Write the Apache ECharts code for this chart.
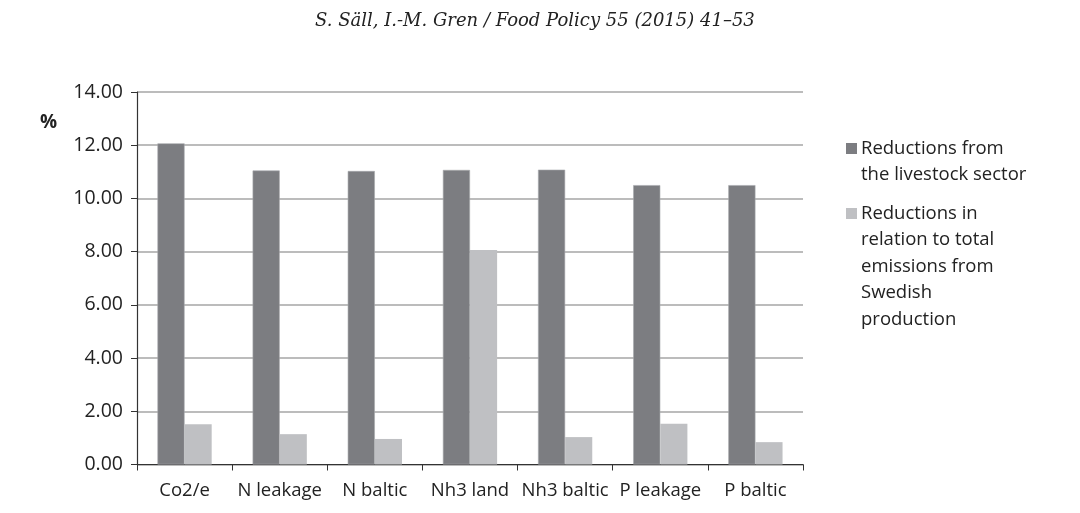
<!DOCTYPE html>
<html>
<head>
<meta charset="utf-8">
<script src="https://cdn.jsdelivr.net/npm/echarts@6/dist/echarts.min.js"></script>
<style>html,body{margin:0;padding:0;background:#fff;}#c{width:1080px;height:513px;}</style>
</head>
<body>
<div id="c"></div>
<script>
var categories = ['Co2/e', 'N leakage', 'N baltic', 'Nh3 land', 'Nh3 baltic', 'P leakage', 'P baltic'];
var livestock = [12.07, 11.05, 11.03, 11.07, 11.08, 10.50, 10.50];
var totalShare = [1.51, 1.14, 0.96, 8.06, 1.03, 1.53, 0.84];
var seriesNames = ['Reductions from\nthe livestock sector', 'Reductions in\nrelation to total\nemissions from\nSwedish\nproduction'];
var yTicks = [0, 2, 4, 6, 8, 10, 12, 14];
var colors = ['#7c7d81', '#bfc0c3'];

var chart = echarts.init(document.getElementById('c'));
var font = '"Open Sans", Lato, sans-serif';
var legendGraphics = [];
var legendTop = [139, 204];
seriesNames.forEach(function (n, i) {
  legendGraphics.push({ type: 'rect', left: 846, top: legendTop[i] + 4, shape: { width: 11, height: 11 }, style: { fill: colors[i] } });
  legendGraphics.push({ type: 'text', left: 861, top: legendTop[i] - 4, style: { text: n, font: '18.5px ' + font, fill: '#222', lineHeight: 26.5 } });
});
legendGraphics.push({ type: 'text', left: 315, top: 12, style: { text: 'S. Säll, I.-M. Gren / Food Policy 55 (2015) 41–53', font: 'italic 18px "DejaVu Serif", "Liberation Serif", serif', fill: '#222' } });
legendGraphics.push({ type: 'text', left: 40, top: 113, style: { text: '%', font: 'bold 19px ' + font, fill: '#222' } });

chart.setOption({
  animation: false,
  backgroundColor: '#fff',
  grid: { left: 137, right: 277, top: 92, bottom: 48.5 },
  xAxis: {
    type: 'category',
    data: categories,
    axisLine: { lineStyle: { color: '#333', width: 1.2 } },
    axisTick: { show: true, length: 6, lineStyle: { color: '#333' } },
    axisLabel: { fontSize: 18.5, color: '#222', fontFamily: font, margin: 17, interval: 0 }
  },
  yAxis: {
    type: 'value',
    min: 0, max: 14, interval: 2,
    axisLine: { show: true, lineStyle: { color: '#333', width: 1.2 } },
    axisTick: { show: true, length: 6, lineStyle: { color: '#333' } },
    axisLabel: { fontSize: 19.5, color: '#222', fontFamily: font, margin: 14, formatter: function (v) { return v.toFixed(2); } },
    splitLine: { lineStyle: { color: '#a6a6a6', width: 1.5 } }
  },
  series: [
    { name: seriesNames[0], type: 'bar', data: livestock, barGap: '0%', barCategoryGap: '43%', itemStyle: { color: colors[0], borderColor: '#a8a9ac', borderWidth: 0.6 } },
    { name: seriesNames[1], type: 'bar', data: totalShare, itemStyle: { color: colors[1] } }
  ],
  graphic: legendGraphics
});
</script>
</body>
</html>
